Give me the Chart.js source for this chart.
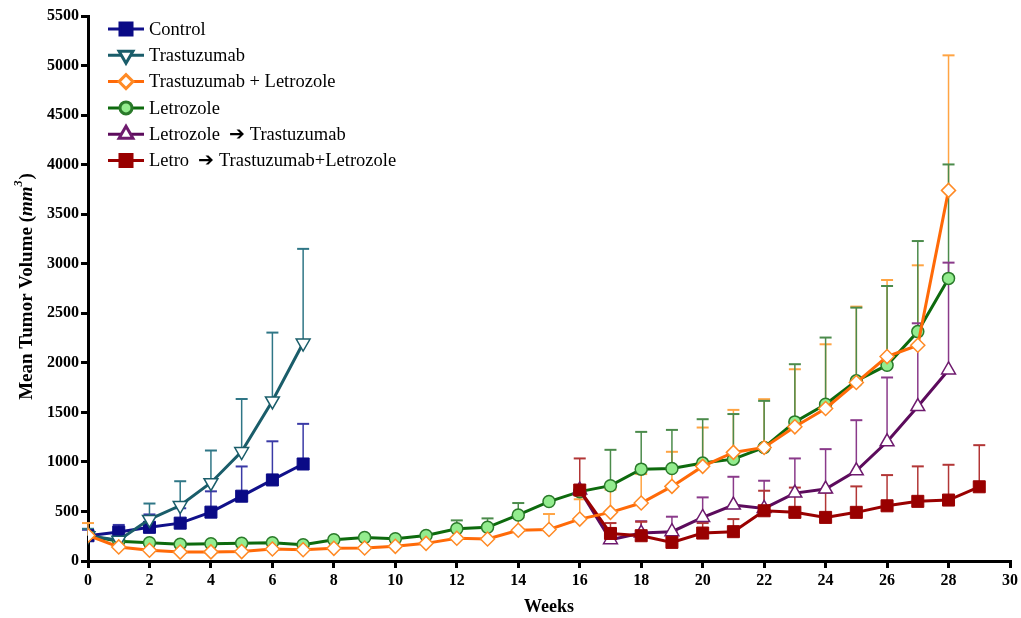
<!DOCTYPE html>
<html>
<head>
<meta charset="utf-8">
<script src="https://cdn.jsdelivr.net/npm/chart.js@4"></script>
<style>
  html, body { margin: 0; padding: 0; background: #fff; }
</style>
</head>
<body>
<canvas id="tumorChart" width="1021" height="618"></canvas>
<script>
// weeks on the x axis, series start at week 0 unless noted
const weeks = [0, 1, 2, 3, 4, 5, 6, 7, 8, 9, 10, 11, 12, 13, 14, 15, 16, 17, 18, 19, 20, 21, 22, 23, 24, 25, 26, 27, 28, 29];
const yTicks = [0, 500, 1000, 1500, 2000, 2500, 3000, 3500, 4000, 4500, 5000, 5500];

const control = [255, 292, 340, 382, 493, 654, 818, 979];
const controlErr = [60, 72, 130, 150, 210, 300, 390, 405];

const trastuzumab = [255, 210, 420, 560, 790, 1105, 1615, 2200];
const trastuzumabErr = [70, 100, 160, 245, 325, 530, 690, 950];

const trastLetro = [258, 142, 108, 90, 92, 95, 121, 114, 128, 131, 148, 178, 229, 222, 310, 318, 423, 491, 585, 753, 955, 1096, 1146, 1354, 1539, 1801, 2063, 2177, 3740];
const trastLetroErr = [125, null, null, null, null, null, null, null, null, null, null, null, null, null, 130, 156, 200, 230, 292, 349, 392, 429, 487, 581, 648, 766, 773, 807, 1363];

const letrozole = [255, 200, 185, 170, 175, 180, 185, 165, 214, 238, 225, 258, 325, 340, 465, 600, 700, 760, 927, 934, 988, 1028, 1146, 1404, 1582, 1818, 1976, 2315, 2852];
const letrozoleErr = [null, null, null, null, null, null, null, null, null, null, null, null, 85, 90, 120, null, null, 362, 376, 389, 443, 455, 470, 582, 673, 739, 799, 914, 1150];

// switched groups start at week 16
const switchStart = 16;
const letroToTrast = [716, 215, 282, 296, 440, 565, 531, 685, 726, 910, 1203, 1559, 1928];
const letroToTrastErr = [null, 100, 120, 151, 202, 285, 279, 350, 403, 511, 649, 840, 1083];

const letroToTL = [716, 278, 255, 188, 282, 296, 507, 491, 440, 491, 557, 602, 615, 749];
const letroToTLErr = [319, 105, 141, 100, 101, 127, 202, 250, 250, 262, 310, 353, 356, 420];

const toPoints = (vals, start = 0) => vals.map((v, i) => ({ x: weeks[start + i], y: v }));

const serif = '"Liberation Serif", "Times New Roman", serif';

const errorBars = {
    id: 'errorBars',
    beforeDatasetsDraw(chart) {
        const { ctx, scales: { x, y } } = chart;
        chart.data.datasets.forEach((ds) => {
            if (!ds.errors) return;
            ctx.save();
            ctx.strokeStyle = ds.errorColor;
            ds.data.forEach((p, i) => {
                const e = ds.errors[i];
                if (e == null) return;
                const px = x.getPixelForValue(p.x);
                const py = y.getPixelForValue(p.y);
                const pt = y.getPixelForValue(p.y + e);
                ctx.lineWidth = 1.5;
                ctx.beginPath();
                ctx.moveTo(px, py);
                ctx.lineTo(px, pt);
                ctx.stroke();
                ctx.lineWidth = 2;
                ctx.beginPath();
                ctx.moveTo(px - 6, pt);
                ctx.lineTo(px + 6, pt);
                ctx.stroke();
            });
            ctx.restore();
        });
    }
};

// legend drawn as line + marker like the original figure
const lineLegend = {
    id: 'lineLegend',
    afterDraw(chart) {
        const ctx = chart.ctx;
        ctx.save();
        ctx.font = '18.5px ' + serif;
        ctx.textBaseline = 'middle';
        chart.data.datasets.forEach((ds, i) => {
            const cy = 29 + i * 26.3;
            ctx.strokeStyle = ds.borderColor;
            ctx.lineWidth = 3;
            ctx.beginPath();
            ctx.moveTo(108, cy);
            ctx.lineTo(144, cy);
            ctx.stroke();
            ctx.fillStyle = ds.pointBackgroundColor;
            ctx.strokeStyle = ds.pointBorderColor;
            Chart.helpers.drawPoint(ctx, {
                pointStyle: ds.pointStyle,
                rotation: ds.pointRotation || 0,
                radius: ds.pointRadius,
                borderWidth: ds.pointBorderWidth
            }, 126, cy);
            ctx.fillStyle = '#000';
            ctx.fillText(ds.label, 149, cy + 1);
        });
        ctx.restore();
    }
};

const yTitle = {
    id: 'yTitle',
    afterDraw(chart) {
        const ctx = chart.ctx;
        const parts = [
            { t: 'Mean Tumor Volume (', f: 'bold 19px ' + serif, dy: 0 },
            { t: 'mm', f: 'italic bold 19px ' + serif, dy: 0 },
            { t: '3', f: 'italic bold 12px ' + serif, dy: -8 },
            { t: ')', f: 'bold 19px ' + serif, dy: 0 }
        ];
        ctx.save();
        ctx.translate(27, 287);
        ctx.rotate(-Math.PI / 2);
        ctx.fillStyle = '#000';
        ctx.textBaseline = 'middle';
        let total = 0;
        parts.forEach((p) => { ctx.font = p.f; p.w = ctx.measureText(p.t).width; total += p.w; });
        let cx = -total / 2;
        parts.forEach((p) => {
            ctx.font = p.f;
            ctx.fillText(p.t, cx, p.dy);
            cx += p.w + (p.t === '3' ? 1 : 0);
        });
        ctx.restore();
    }
};

new Chart('tumorChart', {
    type: 'line',
    data: {
        datasets: [{
            label: 'Control',
            data: toPoints(control),
            errors: controlErr,
            errorColor: '#3a3aa6',
            borderColor: '#10108a',
            pointStyle: 'rect',
            pointRadius: 8.5,
            pointBackgroundColor: '#0a0a86',
            pointBorderColor: '#0a0a86',
            pointBorderWidth: 1,
            order: 4
        }, {
            label: 'Trastuzumab',
            data: toPoints(trastuzumab),
            errors: trastuzumabErr,
            errorColor: '#2f7686',
            borderColor: '#1a5d6a',
            pointStyle: 'triangle',
            pointRotation: 180,
            pointRadius: 8,
            pointBackgroundColor: '#ffffff',
            pointBorderColor: '#1a5d6a',
            pointBorderWidth: 1.5,
            order: 3
        }, {
            label: 'Trastuzumab + Letrozole',
            data: toPoints(trastLetro),
            errors: trastLetroErr,
            errorColor: '#ffa443',
            borderColor: '#ff6a08',
            pointStyle: 'rectRot',
            pointRadius: 7,
            pointBackgroundColor: '#ffffff',
            pointBorderColor: '#ff8a25',
            pointBorderWidth: 1.5,
            order: 1
        }, {
            label: 'Letrozole',
            data: toPoints(letrozole),
            errors: letrozoleErr,
            errorColor: '#4b8b4b',
            borderColor: '#0d6a0d',
            pointStyle: 'circle',
            pointRadius: 6,
            pointBackgroundColor: '#93ec8e',
            pointBorderColor: '#2a7a2a',
            pointBorderWidth: 1.5,
            order: 6
        }, {
            label: 'Letrozole  \u2794 Trastuzumab',
            data: toPoints(letroToTrast, switchStart),
            errors: letroToTrastErr,
            errorColor: '#8a3a8a',
            borderColor: '#5c0b5c',
            pointStyle: 'triangle',
            pointRadius: 8,
            pointBackgroundColor: '#ffffff',
            pointBorderColor: '#6e1a6e',
            pointBorderWidth: 1.5,
            order: 5
        }, {
            label: 'Letro  \u2794 Trastuzumab+Letrozole',
            data: toPoints(letroToTL, switchStart),
            errors: letroToTLErr,
            errorColor: '#b23636',
            borderColor: '#990000',
            pointStyle: 'rect',
            pointRadius: 8.5,
            pointBackgroundColor: '#990000',
            pointBorderColor: '#990000',
            pointBorderWidth: 1,
            order: 2
        }]
    },
    options: {
        responsive: false,
        animation: false,
        datasets: {
            line: { borderWidth: 3, tension: 0 }
        },
        layout: { padding: { top: 16, right: 9, left: 0, bottom: 0 } },
        plugins: {
            legend: { display: false },
            tooltip: { enabled: false }
        },
        scales: {
            x: {
                type: 'linear',
                min: 0,
                max: 30,
                ticks: {
                    stepSize: 2,
                    color: '#000',
                    maxRotation: 0,
                    padding: 3,
                    font: { family: serif, weight: 'bold', size: 16 }
                },
                grid: { drawOnChartArea: false, tickLength: 7, color: '#000', lineWidth: 3 },
                border: { color: '#000', width: 3 },
                title: {
                    display: true,
                    text: 'Weeks',
                    color: '#000',
                    padding: { top: 2, bottom: 0 },
                    font: { family: serif, weight: 'bold', size: 18 }
                },
                afterFit(scale) { scale.height = 57; }
            },
            y: {
                min: 0,
                max: 5500,
                afterBuildTicks(scale) { scale.ticks = yTicks.map(v => ({ value: v })); },
                ticks: {
                    color: '#000',
                    padding: 2,
                    font: { family: serif, weight: 'bold', size: 16 },
                    callback: v => v
                },
                grid: { drawOnChartArea: false, tickLength: 7, color: '#000', lineWidth: 3 },
                border: { color: '#000', width: 3 },
                afterFit(scale) { scale.width = 88; }
            }
        }
    },
    plugins: [errorBars, lineLegend, yTitle]
});
</script>
</body>
</html>
